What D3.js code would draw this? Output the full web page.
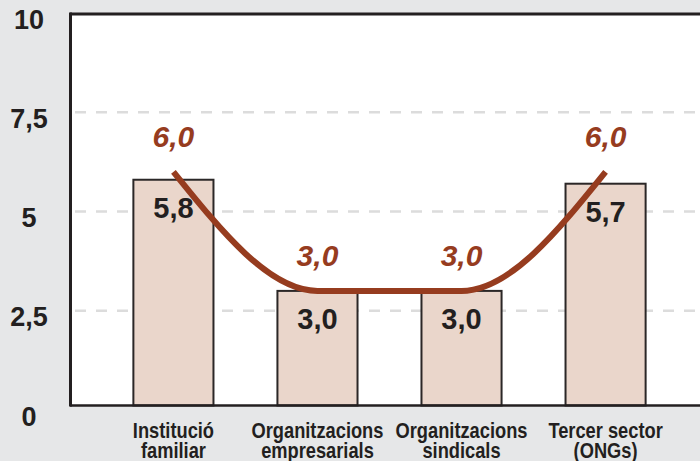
<!DOCTYPE html>
<html><head><meta charset="utf-8">
<script src="https://cdn.jsdelivr.net/npm/d3@7"></script>
<style>
html,body{margin:0;padding:0;background:#e6e7e8;}
svg{display:block;}
</style></head>
<body>
<svg id="chart" width="700" height="461"></svg>
<script>
const categories = [["Institució","familiar"],["Organitzacions","empresarials"],["Organitzacions","sindicals"],["Tercer sector","(ONGs)"]];
const barValues = [5.8, 3.0, 3.0, 5.7];
const lineValues = [6.0, 3.0, 3.0, 6.0];
const yTicks = [0, 2.5, 5, 7.5, 10];
const yTickLabels = ["0", "2,5", "5", "7,5", "10"];
const fmt = v => v.toFixed(1).replace(".", ",");

(function () {
const W = 700, H = 461;
const plotLeft = 70, plotRight = 709, plotTop = 13, bottomAxis = 405.5;
const svg = d3.select("#chart");
svg.append("rect").attr("width", W).attr("height", H).attr("fill", "#e6e7e8");

const x = d3.scaleBand().domain(d3.range(categories.length)).range([plotLeft, plotRight]).paddingInner(0.444).paddingOuter(0.44);
const y = d3.scaleLinear().domain([0, 10]).range([410, 13]);

// plot area
svg.append("rect").attr("x", plotLeft).attr("y", plotTop).attr("width", W - plotLeft + 20).attr("height", bottomAxis - plotTop).attr("fill", "#fff");

// gridlines
svg.append("g").selectAll("line").data(yTicks.filter(t => t > 0 && t < 10)).join("line")
  .attr("x1", plotLeft + 5).attr("x2", W + 10)
  .attr("y1", d => y(d)).attr("y2", d => y(d))
  .attr("stroke", "#dcdcdc").attr("stroke-width", 2.5).attr("stroke-dasharray", "11,10");

// y tick labels
svg.append("g").selectAll("text").data(yTicks).join("text")
  .attr("x", 29).attr("y", d => y(d) + 6.5)
  .attr("text-anchor", "middle").attr("dominant-baseline", "central")
  .attr("font-family", "'Liberation Sans', Arial, sans-serif").attr("font-weight", "bold")
  .attr("font-size", 27).attr("fill", "#231f20")
  .text((d, i) => yTickLabels[i]);

// bars
svg.append("g").selectAll("rect").data(barValues).join("rect")
  .attr("x", (d, i) => x(i)).attr("width", x.bandwidth())
  .attr("y", d => y(d)).attr("height", d => bottomAxis - y(d))
  .attr("fill", "#ead6cb").attr("stroke", "#2b2727").attr("stroke-width", 2);

// bar value labels
svg.append("g").selectAll("text").data(barValues).join("text")
  .attr("x", (d, i) => x(i) + x.bandwidth() / 2).attr("y", d => y(d) + 38)
  .attr("text-anchor", "middle")
  .attr("font-family", "'Liberation Sans', Arial, sans-serif").attr("font-weight", "bold")
  .attr("font-size", 29).attr("fill", "#231f20")
  .text(d => fmt(d));

// axes borders
svg.append("line").attr("x1", plotLeft).attr("x2", W + 10).attr("y1", plotTop + 1).attr("y2", plotTop + 1).attr("stroke", "#231f20").attr("stroke-width", 3);
svg.append("line").attr("x1", plotLeft).attr("x2", W + 10).attr("y1", bottomAxis).attr("y2", bottomAxis).attr("stroke", "#231f20").attr("stroke-width", 2.5);
svg.append("line").attr("x1", plotLeft + 0.5).attr("x2", plotLeft + 0.5).attr("y1", plotTop - 0.5).attr("y2", bottomAxis + 1).attr("stroke", "#231f20").attr("stroke-width", 3);

// line
const line = d3.line().x((d, i) => x(i) + x.bandwidth() / 2).y(d => y(d)).curve(d3.curveMonotoneX);
svg.append("path").datum(lineValues).attr("d", line)
  .attr("fill", "none").attr("stroke", "#963c1f").attr("stroke-width", 6);

// line labels
svg.append("g").selectAll("text").data(lineValues).join("text")
  .attr("x", (d, i) => x(i) + x.bandwidth() / 2).attr("y", d => y(d) - 25)
  .attr("text-anchor", "middle")
  .attr("font-family", "'Liberation Sans', Arial, sans-serif").attr("font-weight", "bold").attr("font-style", "italic")
  .attr("font-size", 30).attr("fill", "#963c1f")
  .text(d => fmt(d));

// category labels (condensed via horizontal scale)
const cat = svg.append("g").selectAll("text").data(categories).join("text")
  .attr("transform", (d, i) => `translate(${x(i) + x.bandwidth() / 2},438) scale(0.85,1)`)
  .attr("text-anchor", "middle")
  .attr("font-family", "'Liberation Sans', Arial, sans-serif").attr("font-weight", "bold")
  .attr("font-size", 21.5).attr("fill", "#231f20");
cat.selectAll("tspan").data(d => d).join("tspan")
  .attr("x", 0)
  .attr("dy", (d, i) => i === 0 ? 0 : 20.5)
  .text(d => d);
})();
</script>
</body></html>
